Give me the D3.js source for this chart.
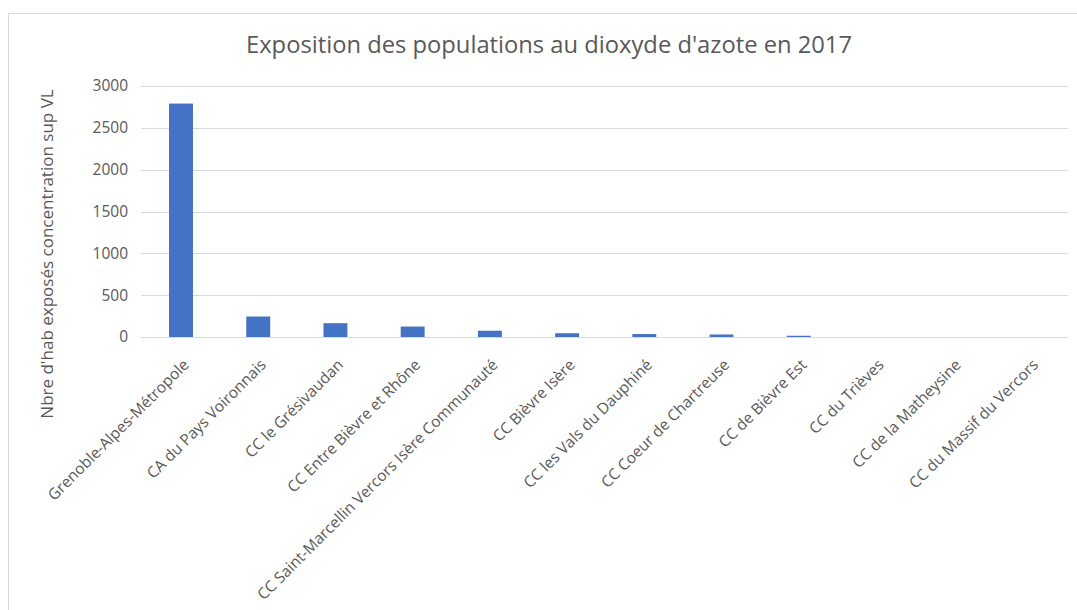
<!DOCTYPE html>
<html>
<head>
<meta charset="utf-8">
<script src="https://cdn.jsdelivr.net/npm/d3@7"></script>
<style>
  html, body { margin: 0; padding: 0; background: #ffffff; }
  svg { display: block; }
</style>
</head>
<body>
<svg id="chart" width="1077" height="610"></svg>
<script>
const categories = [
  "Grenoble-Alpes-Métropole",
  "CA du Pays Voironnais",
  "CC le Grésivaudan",
  "CC Entre Bièvre et Rhône",
  "CC Saint-Marcellin Vercors Isère Communauté",
  "CC Bièvre Isère",
  "CC les Vals du Dauphiné",
  "CC Coeur de Chartreuse",
  "CC de Bièvre Est",
  "CC du Trièves",
  "CC de la Matheysine",
  "CC du Massif du Vercors"
];
const values = [2790, 245, 165, 125, 75, 45, 35, 30, 15, 0, 0, 0];
const yTicks = [0, 500, 1000, 1500, 2000, 2500, 3000];
const titleText = "Exposition des populations au dioxyde d'azote en 2017";
const yTitle = "Nbre d'hab exposés concentration sup VL";

const svg = d3.select("#chart");
const W = 1077, H = 610;
const textColor = "#595959";
const font = "'Open Sans', 'DejaVu Sans', sans-serif";

// chart area border
svg.append("rect")
  .attr("x", 8.5).attr("y", 13.5)
  .attr("width", W + 20).attr("height", H + 20)
  .attr("fill", "#ffffff")
  .attr("stroke", "#d9d9d9").attr("stroke-width", 1);

const plotLeft = 142.4, plotRight = 1069, plotTop = 86, plotBottom = 337;

const x = d3.scaleBand()
  .domain(categories)
  .range([plotLeft, plotRight])
  .paddingInner(0.69)
  .paddingOuter(0.345);

const y = d3.scaleLinear()
  .domain([0, 3000])
  .range([plotBottom, plotTop]);

// gridlines
svg.append("g")
  .selectAll("line")
  .data(yTicks)
  .join("line")
  .attr("x1", 141).attr("x2", 1068)
  .attr("y1", d => Math.round(y(d)) + 0.5)
  .attr("y2", d => Math.round(y(d)) + 0.5)
  .attr("stroke", "#d9d9d9").attr("stroke-width", 1);

// y axis labels
const yAxis = d3.axisLeft(y).tickValues(yTicks).tickSize(0).tickPadding(0)
  .tickFormat(d3.format("d"));
const gy = svg.append("g").attr("transform", "translate(128,0)").call(yAxis);
gy.select(".domain").remove();
gy.selectAll("text")
  .attr("fill", textColor)
  .style("font-family", font)
  .style("font-size", "15.5px");

// bars
svg.append("g")
  .selectAll("rect")
  .data(values)
  .join("rect")
  .attr("x", (d, i) => x(categories[i]))
  .attr("width", x.bandwidth())
  .attr("y", d => y(d))
  .attr("height", d => y(0) - y(d))
  .attr("fill", "#4472C4");

// x axis labels
const xAxis = d3.axisBottom(x).tickSize(0).tickPadding(0);
const gx = svg.append("g").attr("transform", `translate(0,${plotBottom})`).call(xAxis);
gx.select(".domain").remove();
gx.selectAll("text")
  .attr("fill", textColor)
  .style("font-family", font)
  .style("font-size", "15.5px")
  .attr("text-anchor", "end")
  .attr("dy", "0.35em")
  .attr("y", 0)
  .attr("transform", "translate(5,25) rotate(-45)");

// title
svg.append("text")
  .attr("x", 549).attr("y", 53)
  .attr("text-anchor", "middle")
  .attr("fill", textColor)
  .style("font-family", font)
  .style("font-size", "23px")
  .attr("textLength", 606)
  .attr("lengthAdjust", "spacingAndGlyphs")
  .text(titleText);

// y axis title
svg.append("text")
  .attr("transform", "translate(53,254) rotate(-90)")
  .attr("text-anchor", "middle")
  .attr("fill", textColor)
  .style("font-family", font)
  .style("font-size", "17px")
  .text(yTitle);
</script>
</body>
</html>
